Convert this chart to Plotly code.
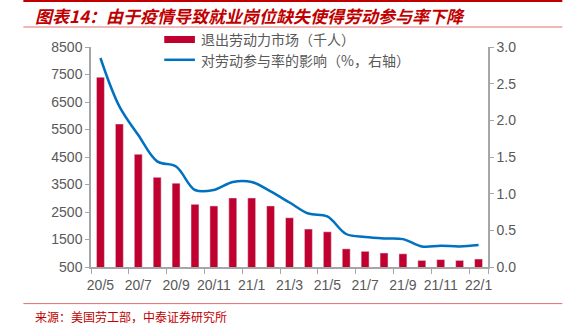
import plotly.graph_objects as go

months = ["20/5", "20/6", "20/7", "20/8", "20/9", "20/10", "20/11", "20/12",
          "21/1", "21/2", "21/3", "21/4", "21/5", "21/6", "21/7", "21/8",
          "21/9", "21/10", "21/11", "21/12", "22/1"]
left_labor = [7400, 5700, 4600, 3760, 3550, 2780, 2720, 3010, 3010, 2720, 2290,
              1880, 1780, 1160, 1070, 1010, 980, 740, 770, 740, 790]
lfpr_impact = [2.85, 2.19, 1.80, 1.44, 1.37, 1.05, 1.05, 1.16, 1.16, 1.03, 0.88,
               0.73, 0.69, 0.45, 0.41, 0.39, 0.38, 0.28, 0.29, 0.28, 0.30]
left_ticks = [500, 1500, 2500, 3500, 4500, 5500, 6500, 7500, 8500]
right_ticks = [0.0, 0.5, 1.0, 1.5, 2.0, 2.5, 3.0]

RED = "#C0002F"
BLUE = "#0070C0"
GRAY = "#595959"
AXIS = "#A6A6A6"

fig = go.Figure()
fig.add_trace(go.Bar(x=months, y=left_labor, marker_color=RED, width=0.42,
                     name="退出劳动力市场（千人）", yaxis="y"))
fig.add_trace(go.Scatter(x=months, y=lfpr_impact, mode="lines",
                         line=dict(color=BLUE, width=2.5, shape="spline", smoothing=1.0),
                         name="对劳动参与率的影响（%，右轴）", yaxis="y2"))

W, H = 570, 324
L, R, T, B = 91, 488.3, 46.7, 266.7
pw, ph = R - L, B - T


def px(x):
    return (x - L) / pw


def py(y):
    return (B - y) / ph


font_fam = "Liberation Sans, Arial, sans-serif"
cjk = "Noto Sans CJK SC, sans-serif"

fig.update_layout(
    width=W, height=H,
    margin=dict(l=L, r=W - R, t=T, b=H - B, pad=0),
    paper_bgcolor="white", plot_bgcolor="white",
    showlegend=False,
    bargap=0.5,
    xaxis=dict(type="category", tickmode="array", tickvals=months[::2], ticktext=months[::2],
               ticks="outside", ticklen=5, tickcolor=AXIS, tickson="boundaries",
               tickangle=0, ticklabelstandoff=4,
               showline=True, linecolor=AXIS, linewidth=1.5, showgrid=False,
               tickfont=dict(family=font_fam, size=14, color=GRAY),
               range=[-0.5, 20.5]),
    yaxis=dict(range=[500, 8500], tickvals=left_ticks, ticks="outside", ticklen=4,
               tickcolor=AXIS, showline=True, linecolor=AXIS, linewidth=1.5,
               showgrid=False, zeroline=False,
               tickfont=dict(family=font_fam, size=14, color=GRAY)),
    yaxis2=dict(range=[0, 3.0], tickvals=right_ticks, tickformat=".1f", overlaying="y",
                side="right", ticks="outside", ticklen=4, tickcolor=AXIS,
                showline=True, linecolor=AXIS, linewidth=1.5, showgrid=False,
                zeroline=False, tickfont=dict(family=font_fam, size=14, color=GRAY)),
)

shapes = [
    dict(type="rect", xref="paper", yref="paper", x0=px(23.3), x1=px(562.7),
         y0=py(1.8), y1=py(-1), fillcolor="#C00000", line_width=0),
    dict(type="line", xref="paper", yref="paper", x0=px(23.3), x1=px(562.7),
         y0=py(26.7), y1=py(26.7), line=dict(color="#E07070", width=1)),
    dict(type="line", xref="paper", yref="paper", x0=px(23.3), x1=px(562.7),
         y0=py(303.3), y1=py(303.3), line=dict(color="#E07070", width=1)),
    dict(type="rect", xref="paper", yref="paper", x0=px(164.3), x1=px(195),
         y0=py(42.7), y1=py(35.7), fillcolor=RED, line_width=0),
    dict(type="line", xref="paper", yref="paper", x0=px(164.3), x1=px(195),
         y0=py(59.5), y1=py(59.5), line=dict(color=BLUE, width=2.5)),
]
fig.update_layout(shapes=shapes)

annotations = [
    dict(text="<b><i>图表14：由于疫情导致就业岗位缺失使得劳动参与率下降</i></b>", xref="paper", yref="paper",
         x=px(33), y=py(15.5), xanchor="left", yanchor="middle", showarrow=False,
         font=dict(family=cjk, size=17, color="#C00000")),
    dict(text="退出劳动力市场（千人）", xref="paper", yref="paper",
         x=px(199), y=py(39), xanchor="left", yanchor="middle", showarrow=False,
         font=dict(family=cjk, size=14, color=GRAY)),
    dict(text="对劳动参与率的影响（%，右轴）", xref="paper", yref="paper",
         x=px(199), y=py(59.5), xanchor="left", yanchor="middle", showarrow=False,
         font=dict(family=cjk, size=14, color=GRAY)),
    dict(text="来源：美国劳工部，中泰证券研究所", xref="paper", yref="paper",
         x=px(33), y=py(316), xanchor="left", yanchor="middle", showarrow=False,
         font=dict(family=cjk, size=12, color="#C00000")),
]
fig.update_layout(annotations=annotations)

fig.write_html("out.html")
